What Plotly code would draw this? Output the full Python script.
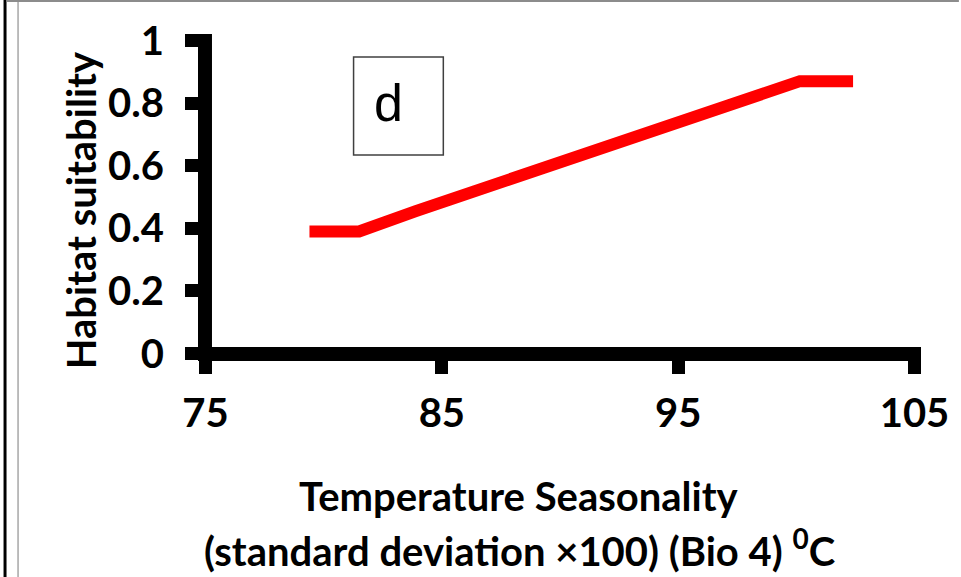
import plotly.graph_objects as go

# ---- data ----
temp_seasonality = [79.4, 81.5, 83.9, 86.7, 89.5, 92.35, 95.2, 98.0, 100.15, 102.4]
habitat_suitability = [0.39, 0.39, 0.455, 0.526, 0.596, 0.668, 0.742, 0.810, 0.870, 0.870]
x_tick_vals = [75, 85, 95, 105]
x_tick_text = ["75", "85", "95", "105"]
y_tick_vals = [0, 0.2, 0.4, 0.6, 0.8, 1.0]
y_tick_text = ["0", "0.2", "0.4", "0.6", "0.8", "1"]

W, H = 961, 577
ML, MR, MT, MB = 199, 38, 34, 217
PW, PH = W - ML - MR, H - MT - MB
AX_W = 13  # axis thickness in px
half = AX_W / 2
ex = (x_tick_vals[-1] - x_tick_vals[0]) / (PW - AX_W) * half
ey = (y_tick_vals[-1] - y_tick_vals[0]) / (PH - AX_W) * half

def px(xp):
    return (xp - ML) / PW

def py(yp):
    return (MT + PH - yp) / PH

FS = 40
tick_font = dict(family="Lato", size=FS, color="black", weight="bold")

fig = go.Figure()
fig.add_trace(go.Scatter(
    x=temp_seasonality, y=habitat_suitability, mode="lines",
    line=dict(color="#FF0000", width=12), showlegend=False, hoverinfo="skip"))

fig.update_layout(
    width=W, height=H, autosize=False,
    margin=dict(l=ML, r=MR, t=MT, b=MB, pad=0),
    paper_bgcolor="white", plot_bgcolor="white",
    xaxis=dict(range=[x_tick_vals[0] - ex, x_tick_vals[-1] + ex],
               tickvals=x_tick_vals, ticktext=x_tick_text,
               ticks="outside", ticklen=13, tickwidth=12.5, tickcolor="black",
               showline=True, linewidth=1, linecolor="black",
               showgrid=False, zeroline=False,
               tickfont=tick_font, ticklabelstandoff=5),
    yaxis=dict(range=[y_tick_vals[0] - ey, y_tick_vals[-1] + ey],
               tickvals=y_tick_vals, ticktext=y_tick_text,
               ticks="outside", ticklen=13, tickwidth=12.5, tickcolor="black",
               showline=True, linewidth=1, linecolor="black",
               showgrid=False, zeroline=False,
               tickfont=tick_font, ticklabelstandoff=13),
)

shapes = [
    # y axis line
    dict(type="rect", xref="x", xsizemode="pixel", xanchor=x_tick_vals[0], x0=-half, x1=half,
         yref="paper", y0=0, y1=1, fillcolor="black", line=dict(width=0)),
    # x axis line
    dict(type="rect", yref="y", ysizemode="pixel", yanchor=y_tick_vals[0], y0=-half, y1=half,
         xref="paper", x0=0, x1=1, fillcolor="black", line=dict(width=0)),
    # panel label box
    dict(type="rect", xref="paper", yref="paper", x0=px(354), x1=px(444), y0=py(155), y1=py(57),
         line=dict(color="#404040", width=1.5), fillcolor="rgba(0,0,0,0)"),
    # outer frame pieces
    dict(type="rect", xref="paper", yref="paper", x0=px(3), x1=px(6), y0=py(H), y1=py(0),
         fillcolor="black", line=dict(width=0)),
    dict(type="rect", xref="paper", yref="paper", x0=px(6), x1=px(W), y0=py(2), y1=py(0),
         fillcolor="#8c8c8c", line=dict(width=0)),
    dict(type="rect", xref="paper", yref="paper", x0=px(16.8), x1=px(18.3), y0=py(H), y1=py(2),
         fillcolor="#a6a6a6", line=dict(width=0)),
]
fig.update_layout(shapes=shapes)

title_font = dict(family="Lato", size=FS, color="black", weight="bold")
annotations = [
    dict(text="d", xref="paper", yref="paper", x=px(389), y=py(103), xanchor="center", yanchor="middle",
         showarrow=False, font=dict(family="Liberation Sans", size=52, color="black")),
    dict(text="Habitat suitability", xref="paper", yref="paper", x=px(81), y=py(210),
         xanchor="center", yanchor="middle", textangle=-90, showarrow=False, font=title_font),
    dict(text="Temperature Seasonality", xref="paper", yref="paper", x=px(520), y=py(496),
         xanchor="center", yanchor="middle", showarrow=False, font=title_font),
    dict(text="(standard deviation \u00d7100) (Bio 4) <sup>0</sup>C", xref="paper", yref="paper",
         x=px(520), y=py(548), xanchor="center", yanchor="middle", showarrow=False, font=title_font),
]
fig.update_layout(annotations=annotations)

fig.write_html("out.html")
